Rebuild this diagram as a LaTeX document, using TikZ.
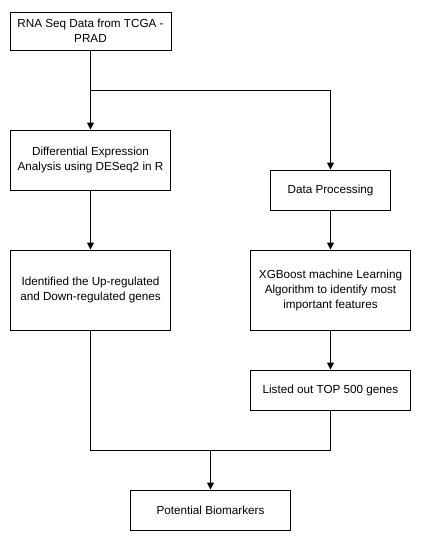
\documentclass[tikz,border=0pt]{standalone}
\usepackage{fontspec}
\setmainfont{Liberation Sans}
\usetikzlibrary{arrows.meta}
\begin{document}
\begin{tikzpicture}[x=1pt,y=-1pt,
  box/.style={draw,line width=1pt,inner sep=0pt,align=center,font=\fontsize{11.7}{15}\selectfont},
  conn/.style={line width=1pt,-{Triangle[width=7pt,length=7pt]}},
  plain/.style={line width=1pt}]
\useasboundingbox (0,0) rectangle (421,541);
\node[box,minimum width=161pt,minimum height=38pt] (rna) at (90.5,31) {RNA Seq Data from TCGA -\\PRAD};
\node[box,minimum width=160pt,minimum height=60pt] (deseq) at (90.5,160) {Differential Expression\\Analysis using DESeq2 in R};
\node[box,minimum width=120pt,minimum height=40pt] (proc) at (330.5,190) {Data Processing};
\node[box,minimum width=160pt,minimum height=80pt] (updown) at (90.5,290) {Identified the Up-regulated\\and Down-regulated genes};
\node[box,minimum width=160pt,minimum height=80pt] (xgb) at (330.5,290) {XGBoost machine Learning\\Algorithm to identify most\\important features};
\node[box,minimum width=160pt,minimum height=40pt] (top) at (330.5,390) {Listed out TOP 500 genes};
\node[box,minimum width=160pt,minimum height=40pt] (bio) at (210.5,510) {Potential Biomarkers};
\coordinate (split) at (90.5,90);
\coordinate (merge) at (210.5,450);
\draw[conn] (rna.south) -- (deseq.north);
\draw[conn] (split) -| (proc.north);
\draw[conn] (deseq.south) -- (updown.north);
\draw[conn] (proc.south) -- (xgb.north);
\draw[conn] (xgb.south) -- (top.north);
\draw[plain] (updown.south) |- (merge);
\draw[plain] (top.south) |- (merge);
\draw[conn] (merge) -- (bio.north);
\end{tikzpicture}
\end{document}
